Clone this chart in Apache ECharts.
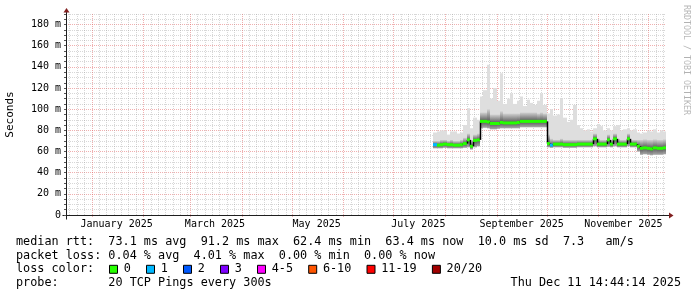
<!DOCTYPE html>
<html><head><meta charset="utf-8">
<script src="https://cdn.jsdelivr.net/npm/echarts@6/dist/echarts.min.js"></script>
<style>html,body{margin:0;padding:0;background:#fff}#c{width:697px;height:297px}</style>
</head><body><div id="c"></div>
<script>
// ---------- data ----------
const dates = ['2025-07-25','2025-07-27','2025-07-29','2025-07-31',
 '2025-08-02','2025-08-04','2025-08-06','2025-08-08','2025-08-10','2025-08-12','2025-08-14','2025-08-16','2025-08-18','2025-08-20','2025-08-22','2025-08-24','2025-08-26','2025-08-28','2025-08-30',
 '2025-09-01','2025-09-03','2025-09-05','2025-09-07','2025-09-09','2025-09-11','2025-09-13','2025-09-15','2025-09-17','2025-09-19','2025-09-21','2025-09-23','2025-09-25','2025-09-27','2025-09-29',
 '2025-10-01','2025-10-03','2025-10-05','2025-10-07','2025-10-09','2025-10-11','2025-10-13','2025-10-15','2025-10-17','2025-10-19','2025-10-21','2025-10-23','2025-10-25','2025-10-27','2025-10-29','2025-10-31',
 '2025-11-02','2025-11-04','2025-11-06','2025-11-08','2025-11-10','2025-11-12','2025-11-14','2025-11-16','2025-11-18','2025-11-20','2025-11-22','2025-11-24','2025-11-26','2025-11-28','2025-11-30',
 '2025-12-02','2025-12-04','2025-12-06','2025-12-08','2025-12-10'];
// median rtt (ms)
const median = [66.5,66,66.5,67,66.5,66.5,66,66,66.5,67.5,71,65,70.5,71,
 88.5,88.5,88,86.5,86.5,86.5,87.5,87,87,87,87,87.5,88.5,88.5,88.5,88.5,88.5,88.5,88.5,88.5,
 67.5,66,67,67,67,66.5,66.5,66.5,66.5,67,67,67,67,67,72,67,67,67,71,67,72,67,67,67,72,67,67,65,
 63,63.5,63,62.5,63.5,63,63,63.5];
// lower edge of the dense smoke (ms)
const smokeLow = [63,63,63,63.5,63,63,63,63,63,63.5,64,62,64,65,
 82,82.5,82,81,81,81.5,82,82,82,82,82,82,83,83,83,83,83,83,83,83,
 64,63.5,64,64,64,63.5,63.5,63.5,63.5,64,64,64,64,64,65,64,64,64,64.5,64,65,64,64,64,65,64,64,60,
 57,57.5,57,56.5,57,57,57,57.5];
// upper edge of the dense smoke (ms)
const smokeHigh = [70,70,71,71,70,71,70,70,71,73,77,70,76,77,
 97,97,100,95,95,95,98,96,96,96,96,96,97,97,97,97,97,96,97,96,
 76,72,71,71,72,71,71,71,71,71,71,71,71,71,77,72,71,71,76,71,77,72,71,71,77,71,71,71,
 71,71.5,71,71,71.5,71,71,71.5];
// highest ping of the period (ms)
const smokeMax = [78,79,80,80,76,79,79,77,78,85,101,82,92,90,
 112,118,142,110,120,108,134,105,110,115,105,108,112,103,109,106,104,108,115,104,
 96,100,94,95,110,92,88,90,104,85,82,80,81,79,82,86,84,80,82,80,84,85,80,81,82,80,81,78,
 77,78,80,79,81,78,80,79];
// loss bucket index (0 = no loss, 1 = one lost ping)
const lossBucket = [1,0,0,0,0,0,0,0,0,0,0,0,0,0,
 0,0,0,0,0,0,0,0,0,0,0,0,0,0,0,0,0,0,0,0,
 0,1,0,0,0,0,0,0,0,0,0,0,0,0,0,0,0,0,0,0,0,0,0,0,0,0,0,0,
 0,0,0,0,0,0,0,0];

const yLabelValues = [0,20,40,60,80,100,120,140,160,180];
const yLabelTexts = ['0','20 m','40 m','60 m','80 m','100 m','120 m','140 m','160 m','180 m'];
const monthLabels = ['January 2025','March 2025','May 2025','July 2025','September 2025','November 2025'];
const monthLabelDates = ['2025-01-16','2025-03-16','2025-05-16','2025-07-16','2025-09-16','2025-11-16'];
const lossLabels = ['0','1','2','3','4-5','6-10','11-19','20/20'];
const lossColors = ['#26ff00','#00b8ff','#0059ff','#7e00ff','#ff00ff','#ff5500','#ff0000','#a10000'];
const legendLines = [
 'median rtt:  73.1 ms avg  91.2 ms max  62.4 ms min  63.4 ms now  10.0 ms sd  7.3   am/s',
 'packet loss: 0.04 % avg  4.01 % max  0.00 % min  0.00 % now',
 'loss color:',
 'probe:       20 TCP Pings every 300s'];
const stampText = 'Thu Dec 11 14:44:14 2025';
const watermark = 'RRDTOOL / TOBI OETIKER';

// ---------- chart ----------
const DAY = 86400000;
const START = Date.UTC(2024, 11, 16, 14, 44, 14);
const END = Date.UTC(2025, 11, 11, 14, 44, 14);
const ts = s => Date.parse(s + 'T00:00:00Z');
const MONO = "'DejaVu Sans Mono', monospace";
const MAJOR = 'rgba(222,79,79,0.45)';
const MINOR = 'rgba(143,143,143,0.36)';

const items = dates.map((d, i) => [ts(d), i + 1 < dates.length ? ts(dates[i + 1]) : END,
  smokeLow[i], smokeHigh[i], median[i], smokeMax[i], lossBucket[i], i > 0 ? median[i - 1] : median[i]]);

const gridData = [];
for (let k = 0; k < 13; k++) {
  const ms = Date.UTC(2024, 11 + k, 1), me = Date.UTC(2024, 12 + k, 1);
  if (ms > START && ms < END) gridData.push([ms, 1]);
  for (let j = 1; ; j++) {
    const t = ms + j * 4.4 * DAY;
    if (t > me - 1.5 * DAY) break;
    if (t > START && t < END) gridData.push([t, 0]);
  }
}

const monthLabelTs = monthLabelDates.map(ts);
const chart = echarts.init(document.getElementById('c'), null, {renderer: 'canvas'});
chart.setOption({
  animation: false,
  backgroundColor: '#fff',
  grid: {left: 66, right: 31, top: 14, bottom: 82, containLabel: false, outerBoundsMode: 'none'},
  xAxis: {
    type: 'value', min: START, max: END,
    axisLine: {show: true, lineStyle: {color: '#1f1f1f', width: 1}},
    axisTick: {show: false},
    splitLine: {show: false},
    axisLabel: {
      customValues: monthLabelTs,
      formatter: v => { const k = monthLabelTs.indexOf(v); return k >= 0 ? monthLabels[k] : ''; },
      fontFamily: MONO, fontSize: 10, color: '#000', margin: 4
    }
  },
  yAxis: {
    type: 'value', min: 0, max: 190, interval: 5,
    name: 'Seconds', nameLocation: 'middle', nameGap: 50, nameRotate: 90,
    nameTextStyle: {fontFamily: MONO, fontSize: 11, color: '#000'},
    axisLine: {show: true, lineStyle: {color: '#1f1f1f', width: 1}},
    axisTick: {show: true, length: 2, lineStyle: {color: '#555'}},
    axisLabel: {
      formatter: v => { const k = yLabelValues.indexOf(v); return k >= 0 ? yLabelTexts[k] : ''; },
      fontFamily: MONO, fontSize: 10, color: '#000', margin: 5
    },
    splitLine: {show: true, lineStyle: {color: [MAJOR, MINOR, MINOR, MINOR], type: [1, 1], width: 1}}
  },
  series: [
    {
      type: 'custom', name: 'grid', silent: true, z: 1, clip: false, data: gridData,
      renderItem: (params, api) => {
        const t = api.value(0), major = api.value(1) === 1;
        const top = api.coord([t, 190]), bot = api.coord([t, 0]);
        const x = Math.round(top[0]) + 0.5;
        return {type: 'line', shape: {x1: x, y1: top[1], x2: x, y2: bot[1] + (major ? 3 : 0)},
          style: {stroke: major ? MAJOR : MINOR, lineWidth: 1, lineDash: [1, 1]}};
      }
    },
    {
      type: 'custom', name: 'smoke', silent: true, z: 2, data: items,
      renderItem: (params, api) => {
        const t0 = api.value(0), t1 = api.value(1);
        const pMax = api.coord([t0, api.value(5)]);
        const pLo = api.coord([t1, api.value(2)]);
        const pHi = api.coord([t0, api.value(3)]);
        const pMed = api.coord([t0, api.value(4)]);
        const x0 = Math.round(pMax[0]), x1 = Math.round(pLo[0]);
        let m = (pMed[1] - pHi[1]) / Math.max(1, pLo[1] - pHi[1]);
        m = Math.min(0.95, Math.max(0.05, m));
        return {type: 'group', children: [
          {type: 'rect', shape: {x: x0, y: pMax[1], width: x1 - x0, height: pLo[1] - pMax[1]}, style: {fill: '#dedede'}},
          {type: 'rect', shape: {x: x0, y: pHi[1], width: x1 - x0, height: pLo[1] - pHi[1]},
            style: {fill: {type: 'linear', x: 0, y: 0, x2: 0, y2: 1, colorStops: [
              {offset: 0, color: '#d2d2d2'}, {offset: m, color: '#555555'}, {offset: 1, color: '#a8a8a8'}]}}}
        ]};
      }
    },
    {
      type: 'custom', name: 'median', silent: true, z: 3, data: items,
      renderItem: (params, api) => {
        const t0 = api.value(0), t1 = api.value(1);
        const p0 = api.coord([t0, api.value(4)]);
        const p1 = api.coord([t1, api.value(4)]);
        const pp = api.coord([t0, api.value(7)]);
        const x0 = Math.round(p0[0]), x1 = Math.round(p1[0]);
        const children = [];
        if (params.dataIndex > 0 && Math.abs(pp[1] - p0[1]) > 1) {
          children.push({type: 'line', shape: {x1: x0 + 0.5, y1: pp[1], x2: x0 + 0.5, y2: p0[1]}, style: {stroke: '#000', lineWidth: 1.5}});
        }
        children.push({type: 'rect', shape: {x: x0, y: p0[1] - 1.5, width: x1 - x0, height: 3},
          style: {fill: lossColors[api.value(6)]}});
        return {type: 'group', children};
      }
    }
  ]
});

// ---------- decorations (arrows, legend, watermark) ----------
const o = chart.convertToPixel({xAxisIndex: 0, yAxisIndex: 0}, [START, 0]);
const e = chart.convertToPixel({xAxisIndex: 0, yAxisIndex: 0}, [END, 190]);
const ax = Math.round(o[0]) + 0.5, ay = Math.round(o[1]) + 0.5, xr = Math.round(e[0]), yt = Math.round(e[1]);
const ARROW = '#801f1f';
const CH = 7.1, FS = 11.8;
const g = [
  {type: 'line', shape: {x1: ax - 4, y1: ay, x2: xr + 4, y2: ay}, style: {stroke: '#1f1f1f', lineWidth: 1}},
  {type: 'line', shape: {x1: ax, y1: ay + 4, x2: ax, y2: yt - 2}, style: {stroke: '#1f1f1f', lineWidth: 1}},
  {type: 'polygon', shape: {points: [[xr + 3, ay - 3], [xr + 7.5, ay], [xr + 3, ay + 3]]}, style: {fill: ARROW}},
  {type: 'polygon', shape: {points: [[ax - 3, yt - 1.5], [ax, yt - 6], [ax + 3, yt - 1.5]]}, style: {fill: ARROW}},
  {type: 'text', x: 686.5, y: 5, rotation: -Math.PI / 2,
    style: {text: watermark, fontFamily: MONO, fontSize: 8.3, fill: 'rgba(0,0,0,0.3)', align: 'left', verticalAlign: 'middle'}}
];
const rowY = [241.5, 255.5, 269.3, 283];
legendLines.forEach((s, k) => g.push({type: 'text', x: 16, y: rowY[k],
  style: {text: s, fontFamily: MONO, fontSize: FS, fill: '#000', align: 'left', verticalAlign: 'middle'}}));
g.push({type: 'text', x: 681, y: rowY[3], style: {text: stampText, fontFamily: MONO, fontSize: FS, fill: '#000', align: 'right', verticalAlign: 'middle'}});
let cx = 109;
lossLabels.forEach((lab, k) => {
  g.push({type: 'rect', shape: {x: cx + 0.5, y: rowY[2] - 4, width: 8, height: 8}, style: {fill: lossColors[k], stroke: '#000', lineWidth: 1}});
  const lx = cx + 14.7;
  g.push({type: 'text', x: lx, y: rowY[2], style: {text: lab, fontFamily: MONO, fontSize: FS, fill: '#000', align: 'left', verticalAlign: 'middle'}});
  cx = lx + lab.length * CH + 15.2;
});
chart.setOption({graphic: g});
</script>
</body></html>
